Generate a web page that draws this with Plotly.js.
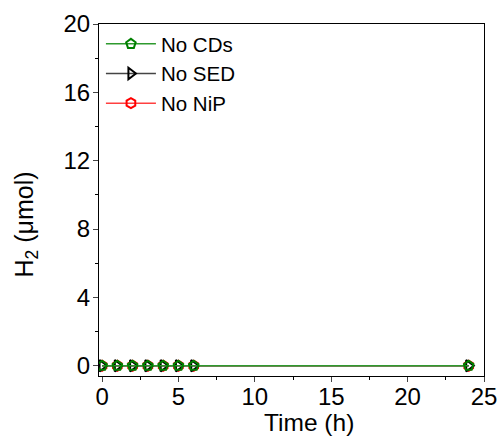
<!DOCTYPE html>
<html><head><meta charset="utf-8">
<script src="https://cdn.plot.ly/plotly-3.0.1.min.js"></script>
<style>body{margin:0;background:#fff}#c{width:501px;height:436px}</style>
</head><body><div id="c"></div>
<script>
const timeH = [0, 1, 2, 3, 4, 5, 6, 24];
const noCDs = [0, 0, 0, 0, 0, 0, 0, 0];
const noSED = [0, 0, 0, 0, 0, 0, 0, 0];
const noNiP = [0, 0, 0, 0, 0, 0, 0, 0];
const seriesNames = ["No CDs", "No SED", "No NiP"];
const xTicks = [0, 5, 10, 15, 20, 25];
const yTicks = [0, 4, 8, 12, 16, 20];
const xTitle = "Time (h)";
const yTitle = "H<sub>2</sub> (μmol)";

const F = "Liberation Sans, Arial, sans-serif";
function tr(name, y, color, lineColor, symbol, rank) {
  return {x: timeH, y: y, name: name, mode: "lines+markers", type: "scatter",
    line: {color: lineColor, width: 1.5},
    marker: {symbol: symbol, size: 10, color: color, line: {width: 2}},
    legendrank: rank};
}
const data = [
  tr(seriesNames[2], noNiP, "#ff0000", "#ff4040", "hexagon-open", 3),
  tr(seriesNames[1], noSED, "#000000", "#444444", "triangle-right-open", 2),
  tr(seriesNames[0], noCDs, "#008000", "#2e9a2e", "pentagon-open", 1)
];
const layout = {
  width: 501, height: 436,
  margin: {l: 99, r: 17, t: 24, b: 60},
  paper_bgcolor: "#fff", plot_bgcolor: "#fff",
  font: {family: F, size: 23, color: "#000"},
  showlegend: true,
  legend: {x: 0.005, y: 1.0, xanchor: "left", yanchor: "top", bgcolor: "rgba(0,0,0,0)",
    font: {family: F, size: 20.5}, tracegroupgap: 0, itemwidth: 50},
  xaxis: {range: [-0.2, 25], tickvals: xTicks, ticks: "outside", ticklen: 5, tickwidth: 1,
    showline: true, linecolor: "#000", linewidth: 1, mirror: true, showgrid: false, zeroline: false,
    minor: {tickvals: [2.5, 7.5, 12.5, 17.5, 22.5], ticks: "outside", ticklen: 3, tickcolor: "#000", showgrid: false},
    tickfont: {size: 24}, ticklabelstandoff: -6},
  yaxis: {range: [-0.6, 20], tickvals: yTicks, ticks: "outside", ticklen: 5, tickwidth: 1,
    showline: true, linecolor: "#000", linewidth: 1, mirror: true, showgrid: false, zeroline: false,
    minor: {tickvals: [2, 6, 10, 14, 18], ticks: "outside", ticklen: 3, tickcolor: "#000", showgrid: false},
    tickfont: {size: 24}, ticklabelstandoff: -2},
  annotations: [
    {text: xTitle, xref: "paper", yref: "paper", x: 0.545, y: -0.132, xanchor: "center", yanchor: "middle",
      showarrow: false, font: {family: F, size: 24.5}},
    {text: yTitle, xref: "paper", yref: "paper", x: -0.19, y: 0.43, xanchor: "center", yanchor: "middle",
      textangle: -90, showarrow: false, font: {family: F, size: 25}}
  ]
};
Plotly.newPlot("c", data, layout, {displayModeBar: false, staticPlot: true});
</script></body></html>
